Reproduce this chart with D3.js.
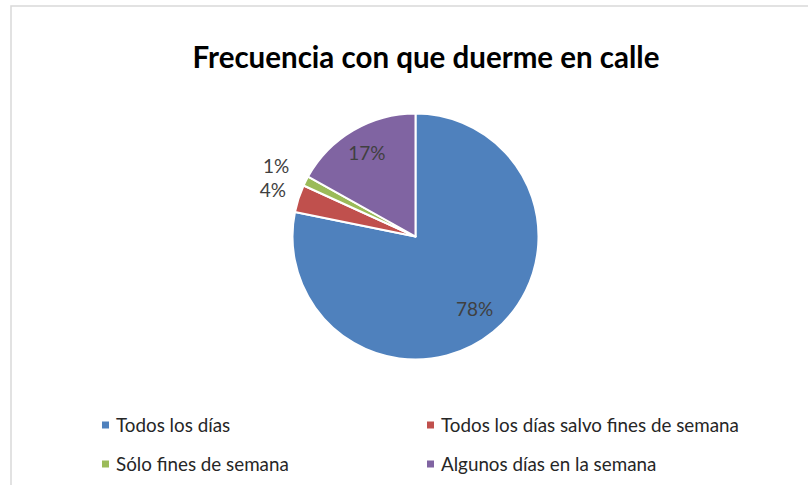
<!DOCTYPE html>
<html>
<head>
<meta charset="utf-8">
<script src="https://cdn.jsdelivr.net/npm/d3@7"></script>
<style>
  html, body { margin: 0; padding: 0; background: #fff; }
  svg { display: block; }
</style>
</head>
<body>
<div id="chart"></div>
<script>
// Frecuencia con que duerme en calle — pie chart
const categories = [
  "Todos los días",
  "Todos los días salvo fines de semana",
  "Sólo fines de semana",
  "Algunos días en la semana",
];
const values = [78.2, 3.6, 1.3, 16.9];
const colors = ["#4F81BD", "#C0504D", "#9BBB59", "#8064A2"];
const labelRadius = [0.76, 1.22, 1.27, 0.78];

const width = 808;
const height = 485;
const font = "Lato, 'Open Sans', sans-serif";

const svg = d3
  .select("#chart")
  .append("svg")
  .attr("width", width)
  .attr("height", height);

// chart area border
svg
  .append("rect")
  .attr("x", 11)
  .attr("y", 6)
  .attr("width", width + 20)
  .attr("height", height + 20)
  .attr("fill", "#fff")
  .attr("stroke", "#d9d9d9")
  .attr("stroke-width", 1.5);

// title
const title = svg
  .append("text")
  .attr("x", 426)
  .attr("y", 68)
  .attr("text-anchor", "middle")
  .attr("font-family", font)
  .attr("font-weight", "bold")
  .attr("font-size", 26)
  .attr("fill", "#000")
  .text("Frecuencia con que duerme en calle");
const tw = title.node().getComputedTextLength();
title.attr("font-size", 26 * 467 / tw);

// pie
const cx = 415.5, cy = 236.5, r = 123;
const pie = d3.pie().sort(null).value((d) => d)(values);
const arc = d3.arc().innerRadius(0).outerRadius(r);

const g = svg.append("g").attr("transform", `translate(${cx},${cy})`);

g.selectAll("path")
  .data(pie)
  .enter()
  .append("path")
  .attr("d", arc)
  .attr("fill", (d, i) => colors[i])
  .attr("stroke", "#fff")
  .attr("stroke-width", 2)
  .attr("stroke-linejoin", "round");

g.selectAll("text.lbl")
  .data(pie)
  .enter()
  .append("text")
  .attr("class", "lbl")
  .attr("transform", (d, i) => {
    const lr = r * labelRadius[i];
    const c = d3.arc().innerRadius(lr).outerRadius(lr).centroid(d);
    return `translate(${c[0]},${c[1]})`;
  })
  .attr("text-anchor", "middle")
  .attr("dy", "0.35em")
  .attr("font-family", font)
  .attr("font-size", 19)
  .attr("fill", "#404040")
  .text((d) => `${Math.round(d.data)}%`);

// legend
const legendX = [102, 427];
const legendY = [425, 464];
const legend = svg
  .selectAll("g.leg")
  .data(categories)
  .enter()
  .append("g")
  .attr("class", "leg")
  .attr("transform", (d, i) => `translate(${legendX[i % 2]},${legendY[Math.floor(i / 2)]})`);

legend
  .append("rect")
  .attr("x", 0)
  .attr("y", -3.5)
  .attr("width", 7)
  .attr("height", 7)
  .attr("fill", (d, i) => colors[i]);

const legText = legend
  .append("text")
  .attr("x", 14)
  .attr("dy", "0.35em")
  .attr("font-family", font)
  .attr("font-size", 16)
  .attr("fill", "#262626")
  .text((d) => d);

// match the legend text width seen in the reference (longest entry ~298px)
const lw = legText.filter((d, i) => i === 1).node().getComputedTextLength();
legText.attr("font-size", 16 * 298 / lw);
</script>
</body>
</html>
